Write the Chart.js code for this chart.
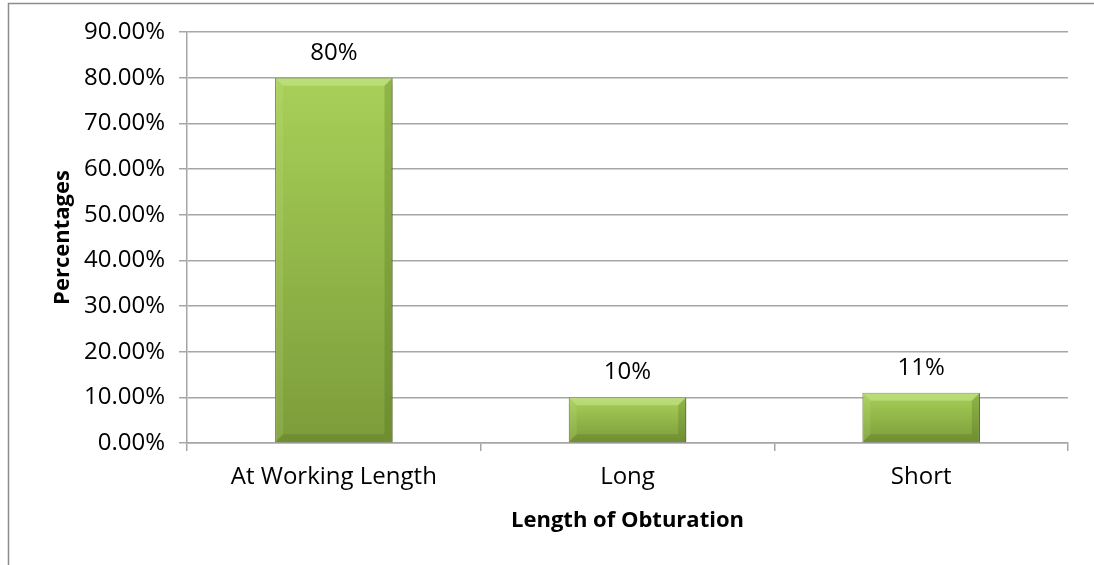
<!DOCTYPE html>
<html>
<head>
<meta charset="utf-8">
<script src="https://cdn.jsdelivr.net/npm/chart.js@4/dist/chart.umd.min.js"></script>
<style>
  html, body { margin: 0; padding: 0; background: #fff; }
  #wrap { width: 1094px; height: 565px; position: relative; }
</style>
</head>
<body>
<div id="wrap"><canvas id="chart" width="1094" height="565"></canvas></div>
<script>
const categories = ["At Working Length", "Long", "Short"];
const percentages = [80, 10, 11];
const barLabels = ["80%", "10%", "11%"];
const yTicks = [0, 10, 20, 30, 40, 50, 60, 70, 80, 90];

const FONT = "'Open Sans', Lato, sans-serif";

// outer frame of the chart object (left + top edges)
const framePlugin = {
  id: 'frame',
  beforeDraw(chart) {
    const ctx = chart.ctx;
    ctx.save();
    ctx.strokeStyle = '#8c8c8c';
    ctx.lineWidth = 1.5;
    ctx.beginPath();
    ctx.moveTo(8.5, 565);
    ctx.lineTo(8.5, 3.5);
    ctx.lineTo(1094, 3.5);
    ctx.stroke();
    ctx.restore();
  }
};

// drop shadow under bars
const shadowPlugin = {
  id: 'barShadow',
  beforeDatasetsDraw(chart) {
    const ctx = chart.ctx;
    ctx.save();
    ctx.shadowColor = 'rgba(0,0,0,0.3)';
    ctx.shadowBlur = 6;
    ctx.shadowOffsetX = 2;
    ctx.shadowOffsetY = 3;
  },
  afterDatasetsDraw(chart) {
    chart.ctx.restore();
  }
};

// bevel edges + value labels
const bevelPlugin = {
  id: 'bevel',
  afterDatasetsDraw(chart) {
    const ctx = chart.ctx;
    const meta = chart.getDatasetMeta(0);
    meta.data.forEach((bar, i) => {
      const l = bar.x - bar.width / 2, r = bar.x + bar.width / 2;
      const t = bar.y, b = bar.base;
      const d = Math.min(8, (b - t) / 3);
      ctx.save();
      ctx.fillStyle = 'rgba(225,245,180,0.35)';
      ctx.beginPath();
      ctx.moveTo(l, t); ctx.lineTo(r, t); ctx.lineTo(r - d, t + d); ctx.lineTo(l + d, t + d);
      ctx.closePath(); ctx.fill();
      ctx.fillStyle = 'rgba(210,235,150,0.15)';
      ctx.beginPath();
      ctx.moveTo(l, t); ctx.lineTo(l + d, t + d); ctx.lineTo(l + d, b - d); ctx.lineTo(l, b);
      ctx.closePath(); ctx.fill();
      ctx.fillStyle = 'rgba(60,90,20,0.22)';
      ctx.beginPath();
      ctx.moveTo(r, t); ctx.lineTo(r - d, t + d); ctx.lineTo(r - d, b - d); ctx.lineTo(r, b);
      ctx.closePath(); ctx.fill();
      ctx.fillStyle = 'rgba(60,90,20,0.2)';
      ctx.beginPath();
      ctx.moveTo(l, b); ctx.lineTo(r, b); ctx.lineTo(r - d, b - d); ctx.lineTo(l + d, b - d);
      ctx.closePath(); ctx.fill();
      ctx.restore();

      ctx.save();
      ctx.fillStyle = '#000';
      ctx.font = '24px ' + FONT;
      ctx.textAlign = 'center';
      ctx.textBaseline = 'middle';
      ctx.fillText(barLabels[i], bar.x, t - 25);
      ctx.restore();
    });
  }
};

const ctx = document.getElementById('chart').getContext('2d');
new Chart(ctx, {
  type: 'bar',
  data: {
    labels: categories,
    datasets: [{
      data: percentages,
      backgroundColor(c) {
        const chart = c.chart;
        if (!chart.chartArea || !chart.scales.y) return '#9bc04c';
        const top = chart.scales.y.getPixelForValue(c.raw);
        const bottom = chart.scales.y.getPixelForValue(0);
        const g = chart.ctx.createLinearGradient(0, top, 0, bottom);
        g.addColorStop(0, '#a8d058');
        g.addColorStop(1, '#7c9c3a');
        return g;
      },
      borderColor: '#5e7d25',
      borderWidth: 1,
      barPercentage: 0.4,
      categoryPercentage: 1.0
    }]
  },
  options: {
    responsive: false,
    animation: false,
    devicePixelRatio: 1,
    layout: { padding: { top: 32, right: 26, bottom: 0, left: 0 } },
    plugins: {
      legend: { display: false },
      tooltip: { enabled: false }
    },
    scales: {
      y: {
        min: 0,
        max: 90,
        afterBuildTicks(axis) { axis.ticks = yTicks.map(v => ({ value: v })); },
        afterFit(axis) { axis.width = 187; },
        ticks: {
          color: '#000',
          font: { family: FONT, size: 24 },
          padding: 14,
          callback: v => v.toFixed(2) + '%'
        },
        grid: { color: '#a6a6a6', lineWidth: 1.5, tickLength: 8 },
        border: { color: '#a6a6a6', width: 1.5 },
        title: {
          display: true,
          text: 'Percentages',
          color: '#000',
          font: { family: FONT, size: 22, weight: 'bold' },
          padding: { top: 50, bottom: 4 }
        }
      },
      x: {
        offset: true,
        afterFit(axis) { axis.height = 122; },
        ticks: {
          color: '#000',
          font: { family: FONT, size: 24 },
          padding: 12
        },
        grid: { offset: true, drawOnChartArea: false, color: '#a6a6a6', lineWidth: 1.5, tickLength: 8 },
        border: { color: '#a6a6a6', width: 1.5 },
        title: {
          display: true,
          text: 'Length of Obturation',
          color: '#000',
          font: { family: FONT, size: 22, weight: 'bold' },
          padding: { top: 8, bottom: 31 }
        }
      }
    }
  },
  plugins: [framePlugin, shadowPlugin, bevelPlugin]
});
</script>
</body>
</html>
